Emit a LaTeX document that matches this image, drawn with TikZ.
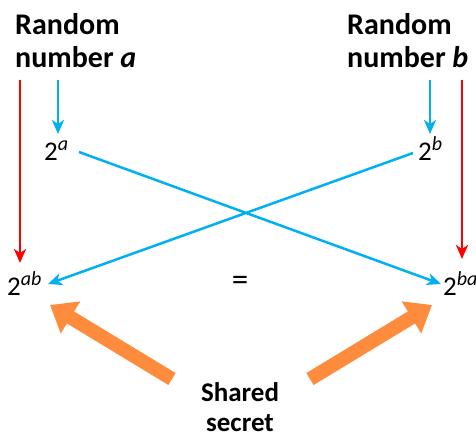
\documentclass[tikz,border=0pt]{standalone}
\usepackage{fontspec}
\setmainfont{Carlito}
\usetikzlibrary{arrows.meta}
\definecolor{cblue}{RGB}{0,176,240}
\definecolor{cred}{RGB}{255,0,0}
\definecolor{corange}{RGB}{255,140,60}
\newcommand{\pw}[2]{2\raisebox{0.36em}{\fontsize{20}{20}\selectfont\itshape #2}}
\tikzset{
  lbl/.style={inner sep=0pt, align=left, font=\fontsize{30}{33}\selectfont\bfseries},
  sslbl/.style={inner sep=0pt, align=center, font=\fontsize{27}{30}\selectfont\bfseries},
  pwr/.style={inner sep=0pt, anchor=base west, font=\fontsize{27}{30}\selectfont},
  bluearr/.style={draw=cblue, line width=2.5pt, -{Stealth[length=14pt,width=12pt,inset=4pt]}},
  redarr/.style={draw=cred, line width=2.5pt, -{Stealth[length=14pt,width=12pt,inset=4pt]}},
  orarr/.style={draw=corange, line width=14pt, -{Triangle[length=24pt,width=36pt]}}
}
\begin{document}
\begin{tikzpicture}[x=1pt,y=-1pt]
\useasboundingbox (0,0) rectangle (476,434);
\clip (0,0) rectangle (476,434);
\node[lbl, anchor=north west] (ra) at (15,13) {Random\\number \textit{a}};
\node[lbl, anchor=north west] (rb) at (347,13) {Random\\number \textit{b}};
\node[sslbl, anchor=north] (ss) at (240,382) {Shared\\secret};
\node[pwr] (pa) at (44,160) {\pw{2}{a}};
\node[pwr] (pb) at (418,160) {\pw{2}{b}};
\node[pwr] (pab) at (7,295) {\pw{2}{ab}};
\node[pwr] (pba) at (443,295) {\pw{2}{ba}};
\node[inner sep=0pt, font=\fontsize{33}{36}\selectfont] (eq) at (240,283) {=};
\coordinate (rlt) at (20,80);
\coordinate (rlb) at (20,263);
\coordinate (rrt) at (462,80);
\coordinate (rrb) at (462,259);
\coordinate (blt) at (58,80);
\coordinate (blb) at (58,134);
\coordinate (brt) at (430,80);
\coordinate (brb) at (430,134);
\coordinate (cas) at (79,152);
\coordinate (cat) at (441,284);
\coordinate (cbs) at (413,153);
\coordinate (cbt) at (48,284);
\coordinate (olt) at (172,379);
\coordinate (olh) at (50,305);
\coordinate (ort) at (310,379);
\coordinate (orh) at (432,305);
\draw[redarr] (rlt) -- (rlb);
\draw[redarr] (rrt) -- (rrb);
\draw[bluearr] (blt) -- (blb);
\draw[bluearr] (brt) -- (brb);
\draw[bluearr] (cas) -- (cat);
\draw[bluearr] (cbs) -- (cbt);
\draw[orarr] (olt) -- (olh);
\draw[orarr] (ort) -- (orh);
\end{tikzpicture}
\end{document}
